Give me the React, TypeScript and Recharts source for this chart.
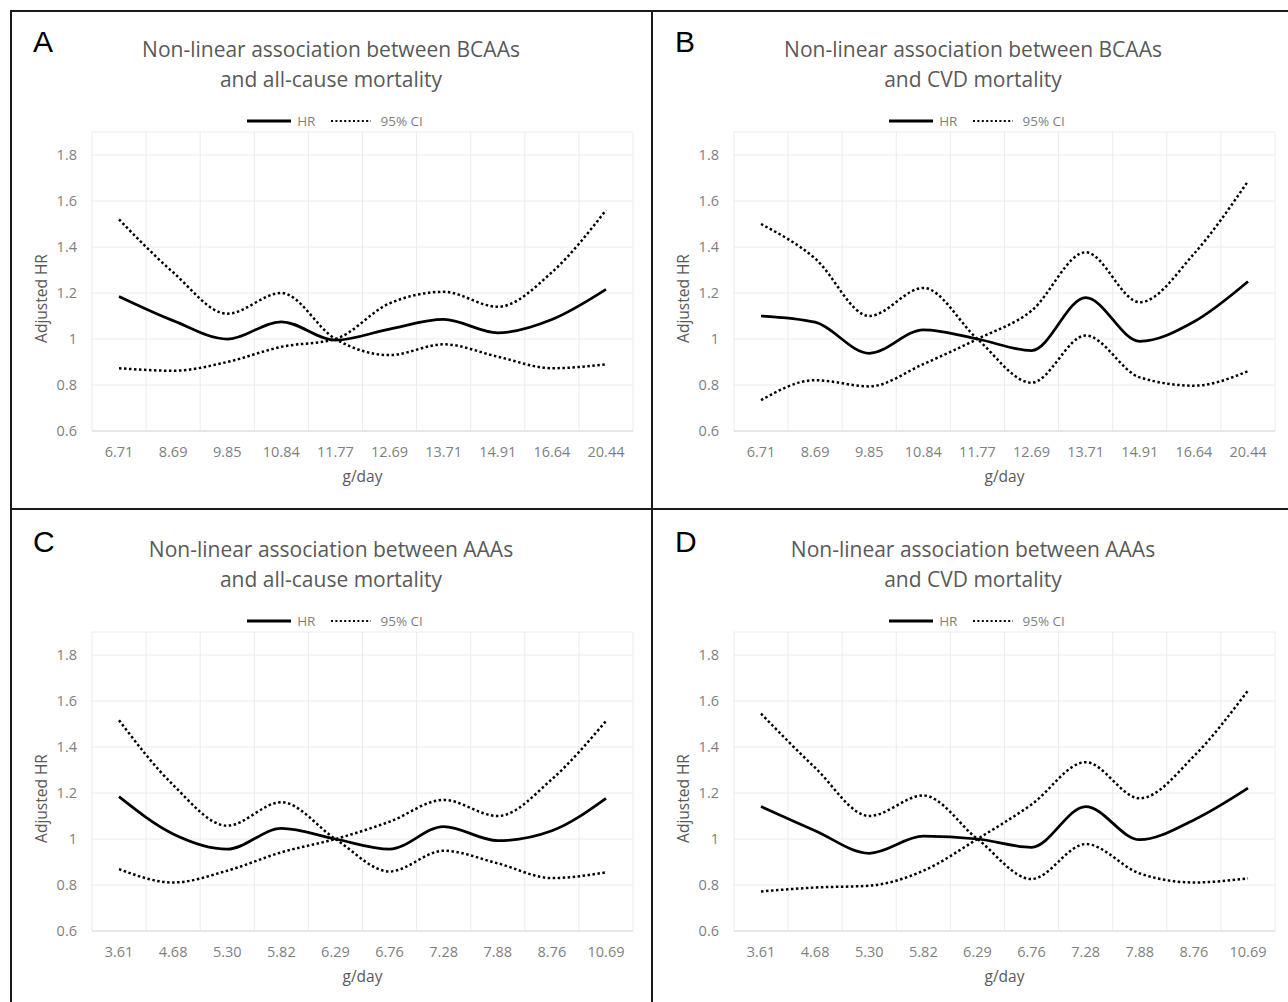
import { LineChart, Line, XAxis, YAxis, CartesianGrid, Legend } from 'recharts';

// x categories (g/day)
const bcaaDoses = ['6.71', '8.69', '9.85', '10.84', '11.77', '12.69', '13.71', '14.91', '16.64', '20.44'];
const aaaDoses = ['3.61', '4.68', '5.30', '5.82', '6.29', '6.76', '7.28', '7.88', '8.76', '10.69'];

const hrTicks = [0.6, 0.8, 1, 1.2, 1.4, 1.6, 1.8];

// A: BCAAs / all-cause
const hrA = [1.185, 1.08, 1.0, 1.075, 0.995, 1.043, 1.085, 1.027, 1.085, 1.216];
const ciA1 = [1.52, 1.29, 1.11, 1.2, 1.0, 0.93, 0.977, 0.923, 0.873, 0.89];
const ciA2 = [0.873, 0.862, 0.9, 0.966, 1.0, 1.155, 1.205, 1.14, 1.29, 1.56];

// B: BCAAs / CVD
const hrB = [1.1, 1.073, 0.938, 1.04, 1.0, 0.95, 1.18, 0.99, 1.075, 1.25];
const ciB1 = [1.5, 1.35, 1.1, 1.222, 1.0, 0.81, 1.015, 0.833, 0.797, 0.86];
const ciB2 = [0.734, 0.821, 0.794, 0.891, 1.0, 1.123, 1.377, 1.16, 1.37, 1.686];

// C: AAAs / all-cause
const hrC = [1.184, 1.022, 0.956, 1.046, 1.0, 0.956, 1.054, 0.993, 1.036, 1.177];
const ciC1 = [1.516, 1.235, 1.058, 1.16, 1.0, 0.859, 0.949, 0.894, 0.83, 0.855];
const ciC2 = [0.869, 0.811, 0.862, 0.942, 1.0, 1.075, 1.17, 1.1, 1.26, 1.513];

// D: AAAs / CVD
const hrD = [1.141, 1.036, 0.938, 1.012, 1.0, 0.964, 1.141, 0.997, 1.083, 1.221];
const ciD1 = [1.545, 1.31, 1.1, 1.189, 1.0, 0.826, 0.978, 0.85, 0.811, 0.829];
const ciD2 = [0.772, 0.789, 0.797, 0.862, 1.0, 1.15, 1.334, 1.177, 1.36, 1.646];

const FONT = '"Open Sans", "Noto Sans", sans-serif';
const W = 642;
const H = 499;

const panels = [
  { letter: 'A', title: ['Non-linear association between BCAAs', 'and all-cause mortality'], doses: bcaaDoses, hr: hrA, ci1: ciA1, ci2: ciA2, left: 10, top: 10 },
  { letter: 'B', title: ['Non-linear association between BCAAs', 'and CVD mortality'], doses: bcaaDoses, hr: hrB, ci1: ciB1, ci2: ciB2, left: 652, top: 10 },
  { letter: 'C', title: ['Non-linear association between AAAs', 'and all-cause mortality'], doses: aaaDoses, hr: hrC, ci1: ciC1, ci2: ciC2, left: 10, top: 510 },
  { letter: 'D', title: ['Non-linear association between AAAs', 'and CVD mortality'], doses: aaaDoses, hr: hrD, ci1: ciD1, ci2: ciD2, left: 652, top: 510 },
];

const LegendContent = ({ payload }: any) => {
  // one entry per line style: HR first, then the CI band
  const items = (payload || [])
    .filter((e: any) => e.dataKey !== 'ci2')
    .sort((a: any, b: any) => (a.dataKey === 'hr' ? -1 : b.dataKey === 'hr' ? 1 : 0));
  return (
    <div style={{ display: 'flex', justifyContent: 'center', alignItems: 'center', paddingLeft: 8, height: 20, fontFamily: FONT, fontSize: 13.5, color: '#7f7f7f' }}>
      {items.map((e: any) => {
        const solid = e.dataKey === 'hr';
        const len = solid ? 44 : 40;
        return (
          <span key={e.dataKey} style={{ display: 'inline-flex', alignItems: 'center', marginRight: solid ? 16 : 0 }}>
            <svg width={len} height={6}>
              <line x1={0} y1={3} x2={len} y2={3} stroke="#000" strokeWidth={solid ? 3 : 2.2} strokeDasharray={solid ? undefined : '2 2.4'} />
            </svg>
            <span style={{ marginLeft: solid ? 6 : 9 }}>{e.value}</span>
          </span>
        );
      })}
    </div>
  );
};

function Panel({ p }: { p: (typeof panels)[number] }) {
  const data = p.doses.map((d, i) => ({ dose: d, hr: p.hr[i], ci1: p.ci1[i], ci2: p.ci2[i] }));
  return (
    <div style={{ position: 'absolute', left: p.left, top: p.top, width: W, height: H }}>
      <div style={{ position: 'absolute', left: 23, top: 17, fontFamily: '"Liberation Sans", Arial, sans-serif', fontSize: 30, lineHeight: '30px', color: '#000' }}>
        {p.letter}
      </div>
      <div style={{ position: 'absolute', left: 0, top: 24, width: W, textAlign: 'center', fontFamily: FONT, fontSize: 21, lineHeight: '30px', color: '#595959' }}>
        <div>{p.title[0]}</div>
        <div>{p.title[1]}</div>
      </div>
      <LineChart width={W} height={H} data={data} margin={{ top: 122, right: 19, bottom: 18, left: 0 }}>
        <CartesianGrid
          stroke="#ececec"
          verticalCoordinatesGenerator={({ offset }: any) =>
            Array.from({ length: p.doses.length + 1 }, (_, i) => offset.left + (offset.width * i) / p.doses.length)
          }
        />
        <XAxis
          dataKey="dose"
          height={60}
          padding={{ left: 27, right: 27 }}
          tickLine={false}
          tickSize={0}
          tickMargin={16}
          axisLine={{ stroke: '#d9d9d9' }}
          tick={{ fill: '#7f7f7f', fontSize: 14.5, fontFamily: FONT }}
          interval={0}
          label={{
            content: ({ viewBox }: any) => (
              <text x={viewBox.x + viewBox.width / 2} y={viewBox.y + 51} textAnchor="middle" fill="#595959" fontSize={15.5} fontFamily={FONT}>
                g/day
              </text>
            ),
          }}
        />
        <YAxis
          type="number"
          domain={[0.6, 1.9]}
          ticks={hrTicks}
          width={82}
          axisLine={false}
          tickLine={false}
          tickSize={0}
          tickMargin={15}
          tick={{ fill: '#7f7f7f', fontSize: 14.5, fontFamily: FONT }}
          label={{
            content: ({ viewBox }: any) => {
              const cx = viewBox.x + 31;
              const cy = viewBox.y + viewBox.height / 2 + 17;
              return (
                <text x={cx} y={cy} transform={`rotate(-90 ${cx} ${cy})`} textAnchor="middle" dominantBaseline="central" fill="#595959" fontSize={15.5} fontFamily={FONT}>
                  Adjusted HR
                </text>
              );
            },
          }}
        />
        <Legend verticalAlign="middle" align="center" content={<LegendContent />} wrapperStyle={{ top: 101, left: 0, width: W }} />
        <Line dataKey="ci1" name="95% CI" type="monotone" stroke="#000" strokeWidth={2.5} strokeDasharray="2.5 2.5" dot={false} activeDot={false} isAnimationActive={false} />
        <Line dataKey="ci2" name="95% CI" legendType="none" type="monotone" stroke="#000" strokeWidth={2.5} strokeDasharray="2.5 2.5" dot={false} activeDot={false} isAnimationActive={false} />
        <Line dataKey="hr" name="HR" type="monotone" stroke="#000" strokeWidth={2.75} dot={false} activeDot={false} isAnimationActive={false} />
      </LineChart>
    </div>
  );
}

export default function App() {
  return (
    <div style={{ position: 'absolute', left: 0, top: 0, width: 1288, height: 1002, overflow: 'hidden', background: '#fff' }}>
      <div style={{ position: 'absolute', left: 10, top: 10, width: 1300, height: 1010, border: '2px solid #1a1a1a', boxSizing: 'border-box' }} />
      <div style={{ position: 'absolute', left: 651, top: 10, width: 2, height: 1000, background: '#1a1a1a' }} />
      <div style={{ position: 'absolute', left: 10, top: 508, width: 1290, height: 2, background: '#1a1a1a' }} />
      {panels.map((p) => (
        <Panel key={p.letter} p={p} />
      ))}
    </div>
  );
}
